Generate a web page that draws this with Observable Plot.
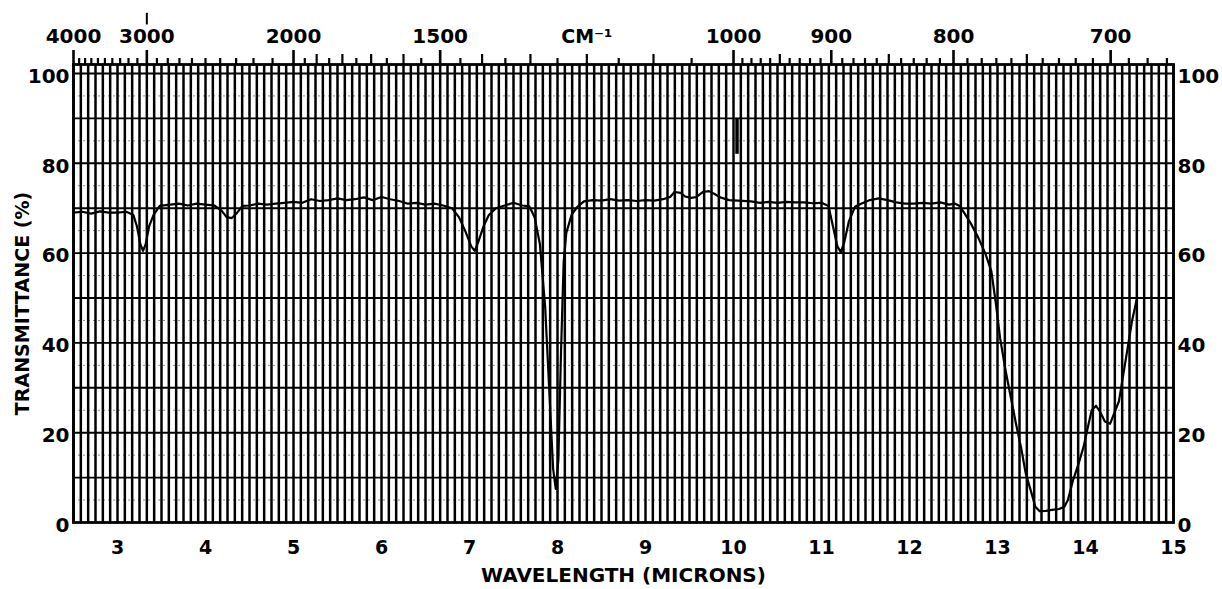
<!DOCTYPE html>
<html><head><meta charset="utf-8">
<script src="https://cdn.jsdelivr.net/npm/d3@7"></script>
<script src="https://cdn.jsdelivr.net/npm/@observablehq/plot@0.6"></script>
<style>html,body{margin:0;padding:0;background:#fff;} svg{display:block}</style>
</head><body><div id="chart"></div>
<script>
// Spectrum: wavelength (microns) and transmittance (%)
const wavelength = [
 2.50,2.60,2.70,2.80,2.90,3.00,3.10,3.18,3.22,3.26,3.29,3.32,3.36,3.41,3.48,3.60,3.70,3.80,3.90,4.00,
 4.10,4.18,4.24,4.30,4.36,4.42,4.50,4.60,4.70,4.80,4.90,5.00,5.10,5.20,5.30,5.40,5.50,5.60,5.70,5.80,
 5.90,6.00,6.10,6.20,6.30,6.40,6.50,6.60,6.70,6.80,6.88,6.95,7.02,7.06,7.10,7.16,7.22,7.30,7.40,7.50,
 7.60,7.68,7.74,7.80,7.86,7.91,7.95,7.98,8.01,8.04,8.07,8.10,8.16,8.22,8.30,8.40,8.50,8.60,8.70,8.80,
 8.90,9.00,9.10,9.20,9.28,9.33,9.40,9.45,9.52,9.58,9.65,9.72,9.78,9.85,9.95,10.05,10.20,10.30,10.40,10.50,
 10.60,10.70,10.80,10.90,11.00,11.08,11.13,11.18,11.22,11.26,11.31,11.38,11.45,11.55,11.65,11.75,11.85,11.95,12.05,12.15,
 12.25,12.35,12.45,12.52,12.57,12.62,12.70,12.78,12.86,12.93,12.98,13.03,13.09,13.15,13.21,13.27,13.32,13.38,13.43,13.48,
 13.55,13.62,13.70,13.76,13.80,13.86,13.92,13.98,14.03,14.07,14.12,14.17,14.22,14.28,14.32,14.38,14.43,14.48,14.53,14.58
];
const transmittance = [
 69,69.2,68.8,69.3,69,69,69.2,68.5,66,62,60.5,62,66,68.5,70.5,70.8,71,70.6,71,70.8,
 70.6,69.5,68,67.8,69,70.5,70.6,71,70.8,71,71.2,71.4,71.2,72,71.6,71.8,72.2,71.8,72,72.4,
 71.8,72.5,72,71.6,71,71.2,70.8,71,70.6,70,68,65,61.5,60.5,62.5,66,68.5,70,70.6,71.2,
 70.6,70.4,68,62,48,28,12,7.5,14,38,58,64.5,68.5,70.2,71.5,71.8,71.7,72,71.7,71.8,
 71.6,71.8,71.7,72,72.5,73.6,73.4,72.6,72.3,72.5,73.6,73.8,73.2,72.4,71.8,71.7,71.5,71.2,71.4,71.2,
 71.4,71.3,71.3,71.1,71.2,70.5,66,61.5,60.2,62.5,67,70.3,71,71.8,72.2,71.8,71.3,71,71,71.2,
 71,71.3,70.8,71,70.5,69,66.5,63.5,60,56,49,41,34,28,22,16.5,11,7,3.5,2.5,
 2.6,2.8,3,3.5,5,9.5,13,17,21.5,25,26,24.5,22.5,22,24,27,33,39,45,49.5
];
// Axis tick labels
const micronTicks = [3,4,5,6,7,8,9,10,11,12,13,14,15];
const transTicks = [0,20,40,60,80,100];
const wavenumberLabels = [4000,3000,2000,1500,1000,900,800,700];
const wavenumberUnit = "CM\u207B\u00B9";
const wavenumberUnitAt = 1200;
const wavenumberMedium = [1900,1800,1700,1600,1400,1300,1200,1100,950,850,750];
// Pen marks on the chart
const penMarks = [{w: 10000/3000, y1: 110.8, y2: 113.4, sw: 2}, {w: 10.04, y1: 82, y2: 90, sw: 3.5}];

const spectrum = wavelength.map((w, i) => ({w, t: transmittance[i]}));

// grid / tick positions
const gridX = d3.range(0, 151).map(i => 2.5 + i / 12);
const grid10 = [10,20,30,40,50,60,70,80,90,100];
const grid5 = [5,15,25,35,45,55,65,75,85,95];
const wnAll = [
  ...d3.range(4000, 2000, -100),
  ...d3.range(2000, 1000, -50),
  ...d3.range(1000, 669, -10)
];
const wnMinor = wnAll.filter(v => !wavenumberLabels.includes(v) && !wavenumberMedium.includes(v));

const PX = 458 / 102; // pixels per percent unit
const font = "'DejaVu Sans', 'Liberation Sans', sans-serif";

const chart = Plot.plot({
  width: 1222, height: 589,
  marginLeft: 73, marginRight: 49, marginTop: 64, marginBottom: 67,
  x: {domain: [2.5, 15], axis: null},
  y: {domain: [0, 102], axis: null},
  style: {fontFamily: font, fontWeight: "bold", background: "#fff", color: "#000"},
  marks: [
    Plot.ruleY(grid5, {x1: 2.5, x2: 15, y: d => d, stroke: "#000", strokeWidth: 1, strokeOpacity: 0.45, strokeDasharray: "2,3"}),
    Plot.ruleY(grid10, {x1: 2.5, x2: 15, y: d => d, stroke: "#000", strokeWidth: 1.9}),
    Plot.ruleX(gridX, {x: d => d, y1: 0, y2: 102, stroke: "#000", strokeWidth: 2.5}),
    Plot.frame({stroke: "#000", strokeWidth: 2.8}),
    // top wavenumber ticks
    Plot.ruleX(wnMinor, {x: d => 10000 / d, y1: 102, y2: 102 + 6 / PX, stroke: "#000", strokeWidth: 2.2}),
    Plot.ruleX(wavenumberMedium, {x: d => 10000 / d, y1: 102, y2: 102 + 10 / PX, stroke: "#000", strokeWidth: 2.2}),
    Plot.ruleX(wavenumberLabels, {x: d => 10000 / d, y1: 102, y2: 102 + 14 / PX, stroke: "#000", strokeWidth: 2.6}),
    Plot.ruleX(penMarks, {x: "w", y1: "y1", y2: "y2", strokeWidth: "sw", stroke: "#000"}),
    // spectrum
    Plot.line(spectrum, {x: "w", y: "t", stroke: "#000", strokeWidth: 2.2}),
    // top labels
    Plot.text(wavenumberLabels, {x: d => 10000 / d, y: 102, dy: -28, text: d => String(d), fontSize: 20, fontWeight: "bold", lineAnchor: "middle", fill: "#000"}),
    Plot.text([wavenumberUnit], {x: 10000 / wavenumberUnitAt, y: 102, dy: -28, text: d => d, fontSize: 19, fontWeight: "bold", lineAnchor: "middle", fill: "#000"}),
    // bottom labels
    Plot.text(micronTicks, {x: d => d, y: 0, dy: 25, text: d => String(d), fontSize: 19, fontWeight: "bold", lineAnchor: "middle", fill: "#000"}),
    // left & right labels
    Plot.text(transTicks, {x: 2.5, y: d => d, dx: -4, dy: 3, text: d => String(d), textAnchor: "end", fontSize: 20, fontWeight: "bold", lineAnchor: "middle", fill: "#000"}),
    Plot.text(transTicks, {x: 15, y: d => d, dx: 4, dy: 3, text: d => String(d), textAnchor: "start", fontSize: 20, fontWeight: "bold", lineAnchor: "middle", fill: "#000"}),
    // axis titles
    Plot.text(["WAVELENGTH (MICRONS)"], {frameAnchor: "bottom", dy: 53, text: d => d, textAnchor: "middle", fontSize: 20, fontWeight: "bold", lineAnchor: "middle", fill: "#000"}),
    Plot.text(["TRANSMITTANCE (%)"], {frameAnchor: "left", dx: -51, dy: 10, rotate: -90, text: d => d, textAnchor: "middle", fontSize: 19, fontWeight: "bold", lineAnchor: "middle", fill: "#000"})
  ]
});
document.getElementById("chart").append(chart);
</script>
</body></html>
